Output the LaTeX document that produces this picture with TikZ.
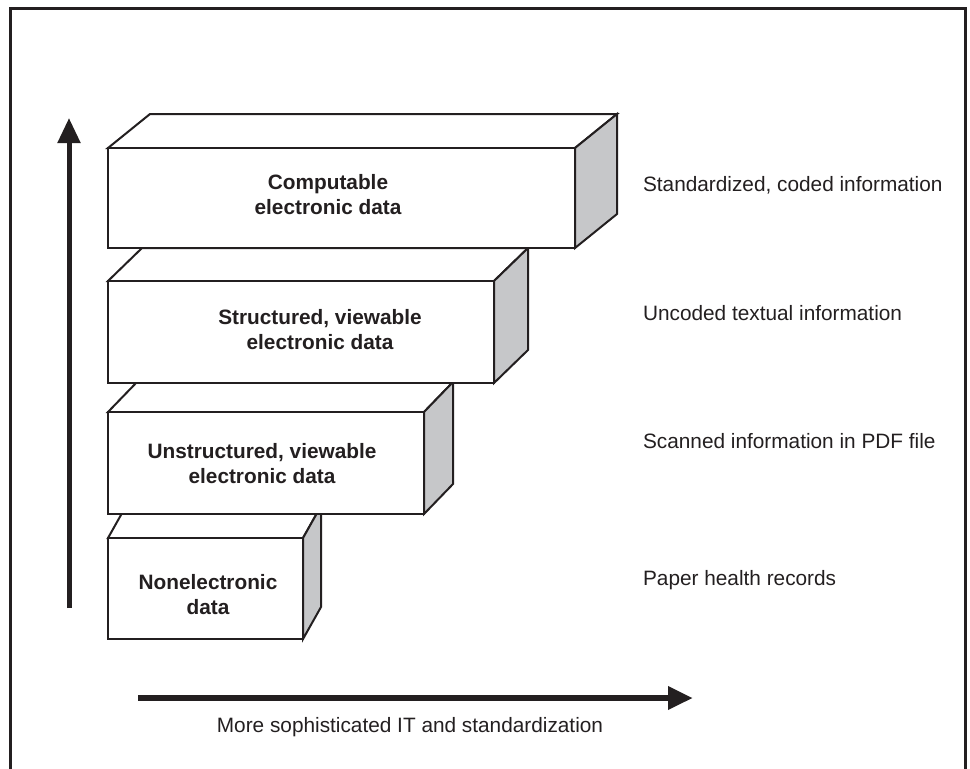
\documentclass[tikz,border=0pt]{standalone}
\usepackage{fontspec}
\setmainfont{Liberation Sans}
\usetikzlibrary{arrows.meta}
\definecolor{ink}{RGB}{35,31,32}
\definecolor{sidegray}{RGB}{198,199,201}
% one slab: left, top, right, bottom, depth x, depth y
\newcommand{\slab}[6]{%
  \draw[face] (#1,#2) -- ++(#5,-#6) -- (#3+#5,#2-#6) -- (#3,#2) -- cycle;
  \draw[side] (#3,#2) -- ++(#5,-#6) -- (#3+#5,#4-#6) -- (#3,#4) -- cycle;
  \draw[face] (#1,#2) rectangle (#3,#4);}
\begin{document}
\begin{tikzpicture}[x=0.5pt,y=-0.5pt,
    face/.style={draw=ink,line width=1pt,fill=white},
    side/.style={face,fill=sidegray},
    boxtext/.style={font=\fontsize{10.4}{12.5}\selectfont\bfseries,align=center,text=ink},
    note/.style={font=\fontsize{10.4}{12.5}\selectfont,anchor=west,text=ink},
    bigarrow/.style={draw=ink,-{Triangle[length=12.5pt,width=11pt]}}]
\useasboundingbox (0,0) rectangle (970,768);
\draw[ink,line width=1.5pt] (10,790) |- (965,8) -- (965,790);
% the four slabs, lowest first
\slab{108}{538}{303}{639}{18}{32}
\slab{108}{412}{424}{514}{29}{30}
\slab{108}{281}{494}{383}{34}{33}
\slab{108}{148}{575}{248}{42}{34}
\node[boxtext] (paper) at (208,595) {Nonelectronic\\data};
\node[boxtext] (unstr) at (262,464) {Unstructured, viewable\\electronic data};
\node[boxtext] (struc) at (320,330) {Structured, viewable\\electronic data};
\node[boxtext] (comp) at (328,195) {Computable\\electronic data};
% notes on the right
\node[note] (coded) at (636,185) {Standardized, coded information};
\node[note] (textual) at (636,313) {Uncoded textual information};
\node[note] (scanned) at (636,441) {Scanned information in PDF file};
\node[note] (records) at (636,580) {Paper health records};
% axes
\coordinate (vbot) at (69,608);
\coordinate (vtop) at (69,118);
\draw[bigarrow,line width=2.5pt] (vbot) -- (vtop);
\coordinate (hleft) at (138,698);
\coordinate (hright) at (693,698);
\draw[bigarrow,line width=3.3pt] (hleft) -- (hright);
\node[note,anchor=center] (axis) at (410,727) {More sophisticated IT and standardization};
\end{tikzpicture}
\end{document}
